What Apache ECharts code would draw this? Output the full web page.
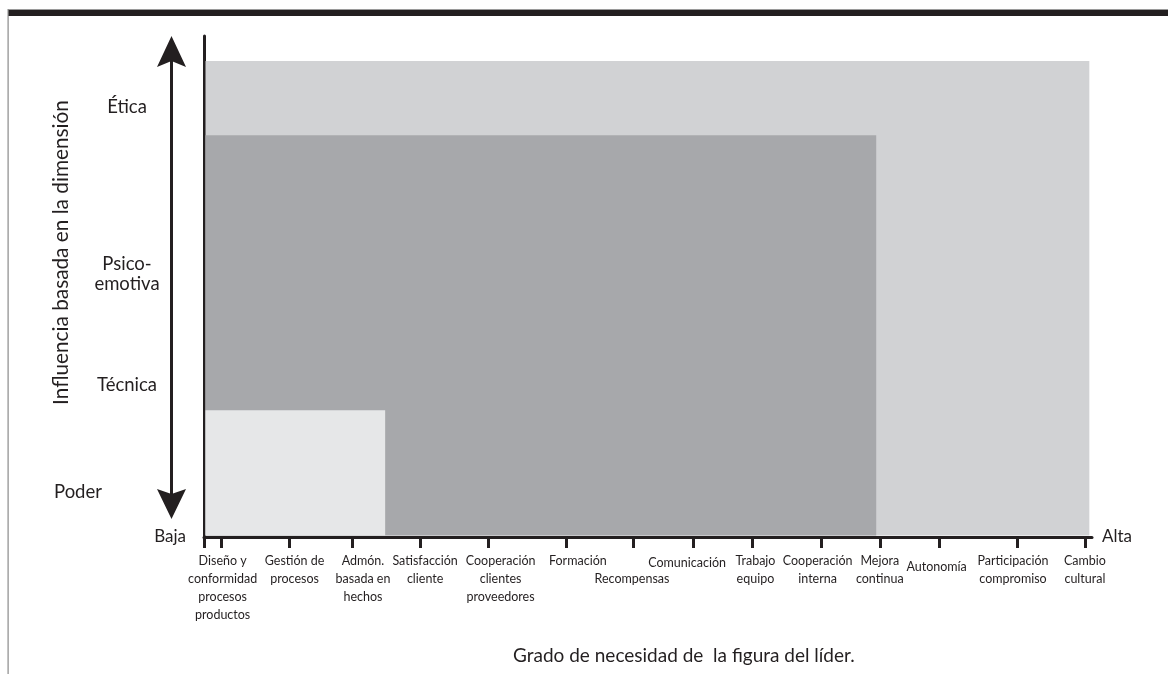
<!DOCTYPE html>
<html>
<head>
<meta charset="utf-8">
<script src="https://cdn.jsdelivr.net/npm/echarts@6/dist/echarts.min.js"></script>
<style>
html,body{margin:0;padding:0;background:#fff;}
#chart{width:1168px;height:674px;}
</style>
</head>
<body>
<div id="chart"></div>
<script>
// ---- Data ----
// x: "Grado de necesidad de la figura del líder" (0 = Baja, 100 = Alta)
const categories = [
  'Diseño y\nconformidad\nprocesos\nproductos',
  'Gestión de\nprocesos',
  'Admón.\nbasada en\nhechos',
  'Satisfacción\ncliente',
  'Cooperación\nclientes\nproveedores',
  'Formación',
  'Recompensas',
  'Comunicación',
  'Trabajo\nequipo',
  'Cooperación\ninterna',
  'Mejora\ncontinua',
  'Autonomía',
  'Participación\ncompromiso',
  'Cambio\ncultural'
];
const tickValues  = [0, 1.9, 9.6, 16.7, 24.4, 32.0, 40.8, 48.3, 55.1, 61.7, 69.5, 76.1, 82.8, 91.6, 99.2];
const labelValues = [2.1, 10.2, 17.9, 24.9, 33.4, 42.1, 48.2, 54.4, 62.1, 69.1, 76.1, 82.5, 91.1, 99.2];

// y: "Influencia basada en la dimensión" (0..100)
const dimensions = ['Ética', 'Psico-\nemotiva', 'Técnica', 'Poder'];
const dimensionValues = [85.8, 52.5, 30.3, 9.0];

// regions: [x end, y top]
const regionNames = ['Ética', 'Psico-emotiva / Técnica', 'Poder'];
const regionXEnd = [99.7, 75.7, 20.4];
const regionYTop = [95.0, 80.2, 25.3];
const regionColors = ['#d1d2d4', '#a7a8ab', '#e6e7e8'];

// ---- Chart ----
const FONT = 'Lato';
const INK = '#231f20';
const chart = echarts.init(document.getElementById('chart'), null, {renderer: 'canvas'});

// per-label vertical shift styles (rich lineHeight)
const labelStyleKey = {6: 'r', 7: 'c', 11: 'a'};

const xRich = {
  n: {fontFamily: FONT, fontSize: 12.5, color: INK, lineHeight: 18},
  r: {fontFamily: FONT, fontSize: 12.5, color: INK, lineHeight: 54},
  c: {fontFamily: FONT, fontSize: 12.5, color: INK, lineHeight: 21},
  a: {fontFamily: FONT, fontSize: 12.5, color: INK, lineHeight: 30}
};

function findIdx(arr, v) {
  for (let i = 0; i < arr.length; i++) if (Math.abs(arr[i] - v) < 1e-6) return i;
  return -1;
}

const option = {
  animation: false,
  backgroundColor: '#ffffff',
  title: {
    text: 'Grado de necesidad de  la figura del líder.',
    left: 508, top: 641,
    textStyle: {fontFamily: FONT, fontSize: 19, fontWeight: 'normal', color: INK}
  },
  grid: {left: 204, right: 76, top: 36, bottom: 137, containLabel: false},
  xAxis: [{
    type: 'value', min: 0, max: 100, position: 'bottom',
    name: 'Baja', nameLocation: 'start', nameGap: 18,
    nameTextStyle: {fontFamily: FONT, fontSize: 17, color: INK, padding: [10, 0, 0, 0]},
    axisLine: {show: true, lineStyle: {color: INK, width: 3}},
    axisTick: {show: true, length: 11, inside: false, lineStyle: {color: INK, width: 3}, customValues: tickValues},
    axisLabel: {
      show: true, margin: 15, verticalAlign: 'top', align: 'center',
      customValues: labelValues,
      formatter: function (v) {
        const i = findIdx(labelValues, v);
        if (i < 0) return '';
        const k = labelStyleKey[i] || 'n';
        return categories[i].split('\n').map(s => '{' + k + '|' + s + '}').join('\n');
      },
      rich: xRich
    },
    splitLine: {show: false}
  }, {
    type: 'value', min: 0, max: 100, position: 'bottom',
    name: 'Alta', nameLocation: 'end', nameGap: 10,
    nameTextStyle: {fontFamily: FONT, fontSize: 17, color: INK, padding: [8, 0, 0, 0]},
    axisLine: {show: false}, axisTick: {show: false}, axisLabel: {show: false}, splitLine: {show: false}
  }],
  yAxis: {
    type: 'value', min: 0, max: 100,
    name: 'Influencia basada en la dimensión', nameLocation: 'middle', nameGap: 132,
    nameMoveOverlap: false,
    nameTextStyle: {fontFamily: FONT, fontSize: 20.8, color: INK, padding: [0, 0, 0, 68]},
    axisLine: {show: true, lineStyle: {color: INK, width: 3}},
    axisTick: {show: false},
    axisLabel: {
      show: true, margin: 77, align: 'center',
      customValues: dimensionValues,
      formatter: function (v) {
        const i = findIdx(dimensionValues, v);
        if (i < 0) return '';
        const k = dimensions[i] === 'Poder' ? 'p' : 'n';
        return dimensions[i].split('\n').map(s => '{' + k + '|' + s + '}').join('\n');
      },
      rich: {
        n: {fontFamily: FONT, fontSize: 18.5, color: INK, lineHeight: 20},
        p: {fontFamily: FONT, fontSize: 18.5, color: INK, lineHeight: 20, padding: [0, 98, 0, 0]}
      }
    },
    splitLine: {show: false}
  },
  series: [{
    type: 'custom',
    name: 'Regiones',
    xAxisIndex: 0,
    coordinateSystem: 'cartesian2d',
    encode: {x: [0, 1], y: 2},
    data: regionNames.map((n, i) => ({name: n, value: [0, regionXEnd[i], regionYTop[i]], itemStyle: {color: regionColors[i]}})),
    renderItem: function (params, api) {
      const p0 = api.coord([api.value(0), api.value(2)]);
      const p1 = api.coord([api.value(1), 0]);
      return {
        type: 'rect',
        shape: {x: p0[0] + 1.5, y: p0[1], width: p1[0] - p0[0] - 1.5, height: p1[1] - p0[1] - 1.5},
        style: {fill: api.visual('color')}
      };
    },
    z: 1
  }],
  graphic: [
    // page frame
    {type: 'rect', shape: {x: 8, y: 9, width: 1160, height: 1}, style: {fill: '#9a9a9a'}, silent: true},
    {type: 'rect', shape: {x: 8, y: 10, width: 1160, height: 6}, style: {fill: INK}, silent: true},
    {type: 'rect', shape: {x: 7.5, y: 9, width: 1.2, height: 665}, style: {fill: '#8a8a8a'}, silent: true},
    // double-headed arrow
    {type: 'line', shape: {x1: 171.5, y1: 60, x2: 171.5, y2: 495}, style: {stroke: INK, lineWidth: 3}, silent: true},
    {type: 'polygon', shape: {points: [[171.5, 36], [157, 67], [171.5, 61], [186, 67]]}, style: {fill: INK}, silent: true},
    {type: 'polygon', shape: {points: [[171.5, 519], [157, 489], [171.5, 494], [186, 489]]}, style: {fill: INK}, silent: true}
  ]
};
chart.setOption(option);
</script>
</body>
</html>
